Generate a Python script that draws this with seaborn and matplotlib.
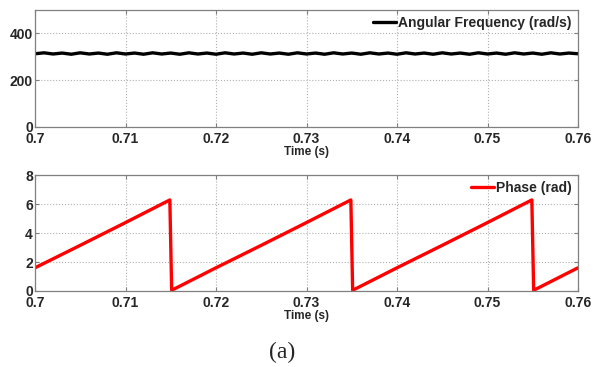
import numpy as np
import pandas as pd
import matplotlib
matplotlib.use("Agg")
import matplotlib.pyplot as plt
import seaborn as sns

# ---- data ----
freq_time = [0.700, 0.701, 0.702, 0.703, 0.704, 0.705, 0.706, 0.707, 0.708, 0.709,
             0.710, 0.711, 0.712, 0.713, 0.714, 0.715, 0.716, 0.717, 0.718, 0.719,
             0.720, 0.721, 0.722, 0.723, 0.724, 0.725, 0.726, 0.727, 0.728, 0.729,
             0.730, 0.731, 0.732, 0.733, 0.734, 0.735, 0.736, 0.737, 0.738, 0.739,
             0.740, 0.741, 0.742, 0.743, 0.744, 0.745, 0.746, 0.747, 0.748, 0.749,
             0.750, 0.751, 0.752, 0.753, 0.754, 0.755, 0.756, 0.757, 0.758, 0.759,
             0.760]
freq_vals = [313, 317, 312, 316, 311, 317, 312, 316, 311, 317,
             312, 316, 311, 317, 312, 316, 311, 317, 312, 316,
             311, 317, 312, 316, 311, 317, 312, 316, 311, 317,
             312, 316, 311, 317, 312, 316, 311, 317, 312, 316,
             311, 317, 312, 316, 311, 317, 312, 316, 311, 317,
             312, 316, 311, 317, 312, 316, 311, 317, 312, 316,
             313]

phase_time = [0.700, 0.705, 0.710, 0.7149, 0.7151, 0.720, 0.725, 0.730, 0.7349,
              0.7351, 0.740, 0.745, 0.750, 0.7549, 0.7551, 0.760]
phase_vals = [1.60, 3.15, 4.72, 6.28, 0.05, 1.60, 3.15, 4.72, 6.28,
              0.05, 1.60, 3.15, 4.72, 6.28, 0.05, 1.60]

x_ticks = [0.70, 0.71, 0.72, 0.73, 0.74, 0.75, 0.76]
x_labels = ["0.7", "0.71", "0.72", "0.73", "0.74", "0.75", "0.76"]
freq_yticks = [0, 200, 400]
phase_yticks = [0, 2, 4, 6, 8]

sns.set_style("ticks")
plt.rcParams['font.family'] = ['Liberation Sans', 'DejaVu Sans']

fig = plt.figure(figsize=(5.93, 3.67), dpi=100)
ax1 = fig.add_axes([35/593, 1-127/367, 543/593, 117/367])
ax2 = fig.add_axes([35/593, 1-291/367, 543/593, 116/367])

df1 = pd.DataFrame({"t": freq_time, "v": freq_vals})
df2 = pd.DataFrame({"t": phase_time, "v": phase_vals})

sns.lineplot(data=df1, x="t", y="v", ax=ax1, color="black", linewidth=2.4,
             label="Angular Frequency (rad/s)")
sns.lineplot(data=df2, x="t", y="v", ax=ax2, color="#ff0000", linewidth=2.4,
             label="Phase (rad)")

for ax, yt, ylim, h in [(ax1, freq_yticks, (0, 500), 117), (ax2, phase_yticks, (0, 8), 116)]:
    ax.set_xlim(0.70, 0.76)
    ax.set_ylim(*ylim)
    ax.set_xticks(x_ticks)
    ax.set_xticklabels(x_labels)
    ax.set_yticks(yt)
    ax.grid(True, color="#b0b0b0", linestyle=":", linewidth=0.8)
    ax.tick_params(direction="in", top=True, right=True, length=3,
                   labelsize=10, color="#808080")
    ax.tick_params(axis="x", pad=3.5)
    ax.tick_params(axis="y", pad=1.5)
    for lab in ax.get_xticklabels() + ax.get_yticklabels():
        lab.set_fontweight("bold")
    for sp in ax.spines.values():
        sp.set_color("#808080")
        sp.set_linewidth(0.9)
        sp.set_visible(True)
    ax.set_xlabel("Time (s)", fontsize=8.5, fontweight="bold")
    ax.xaxis.label.set_va("center")
    ax.xaxis.set_label_coords(0.5, -25/h)
    ax.set_ylabel("")
    leg = ax.legend(loc="upper right", frameon=False, handlelength=1.65,
                    handletextpad=0.15, borderaxespad=0.15, borderpad=0.3,
                    prop={"weight": "bold", "size": 10})

fig.text(282/593, 1-352/367, "(a)", ha="center", va="center",
         fontsize=17, family="Liberation Serif")

fig.savefig("out.png", dpi=100, facecolor="white")
